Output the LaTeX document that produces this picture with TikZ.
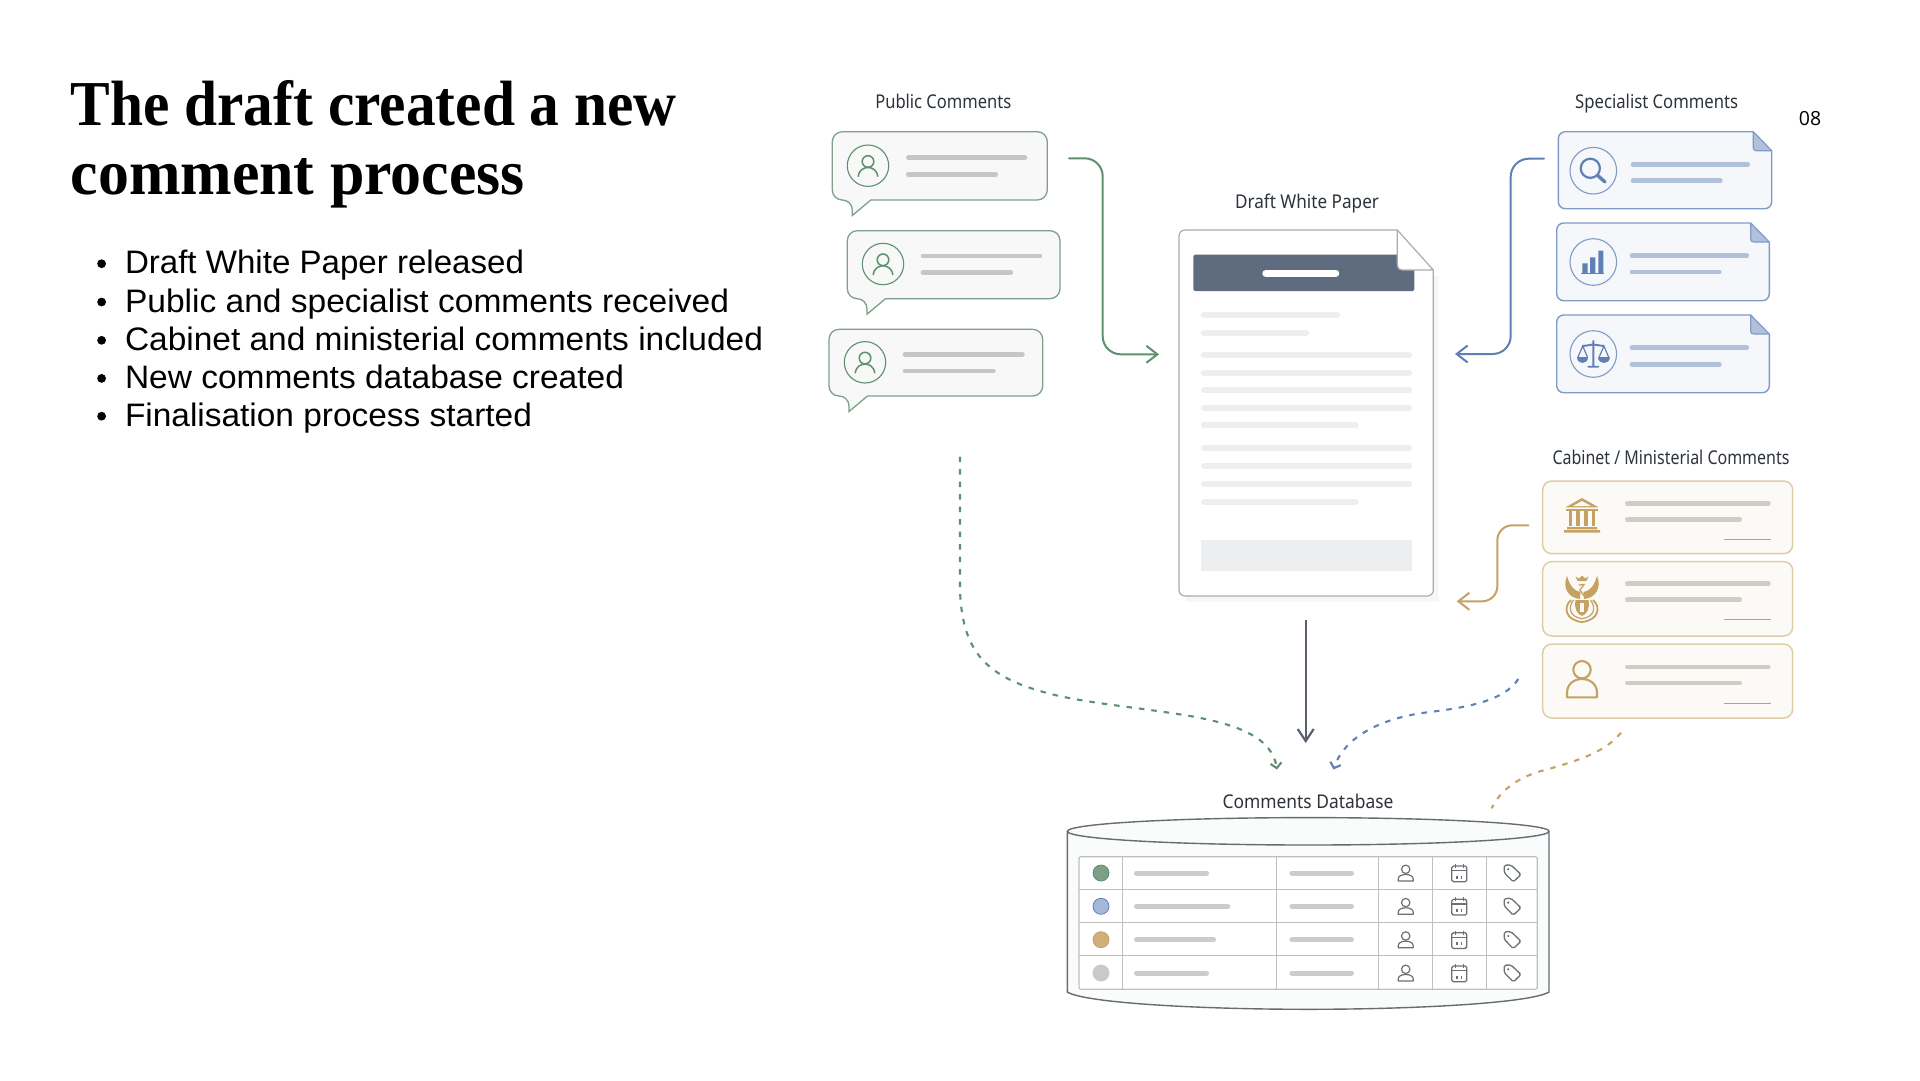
\documentclass[tikz,border=0pt]{standalone}
\usepackage{fontspec}
\usepackage{graphicx}
\usetikzlibrary{arrows.meta,calc}
\newfontfamily\labelfont{Noto Sans}
\newfontfamily\bodyfont{Liberation Sans}
\newfontfamily\numfont{Open Sans}
\newfontfamily\titlefont{Liberation Serif}
\definecolor{gline}{HTML}{5E8F70}
\definecolor{gcard}{HTML}{7FA189}
\definecolor{gfill}{HTML}{F7F8F7}
\definecolor{gbar}{HTML}{C3C8C5}
\definecolor{bline}{HTML}{5F80B5}
\definecolor{bcard}{HTML}{7F9BC6}
\definecolor{bfill}{HTML}{F5F7FB}
\definecolor{bbar}{HTML}{B1C1DB}
\definecolor{tline}{HTML}{C4A264}
\definecolor{tcard}{HTML}{E0CDA8}
\definecolor{tfill}{HTML}{FCFAF6}
\definecolor{tbarc}{HTML}{D0CDC6}
\definecolor{tthin}{HTML}{A0A5A9}
\definecolor{docbar}{HTML}{EDEEEF}
\definecolor{docedge}{HTML}{A9ABAE}
\definecolor{dochead}{HTML}{5F6B7E}
\definecolor{dark}{HTML}{5A6270}
\definecolor{dbedge}{HTML}{666C74}
\definecolor{dbfill}{HTML}{FAFBFB}
\definecolor{labelc}{HTML}{2D333B}
\definecolor{tablec}{HTML}{BDBFC0}
\definecolor{iconc}{HTML}{6C7176}
\definecolor{rowbar}{HTML}{CACCCE}
\definecolor{dotg}{HTML}{7E9F85}
\definecolor{dotb}{HTML}{A5B8DA}
\definecolor{dott}{HTML}{CFAF7A}
\definecolor{dotn}{HTML}{C8CAC8}
\definecolor{shadowc}{HTML}{F6F6F6}
\newcommand\tbarline[5]{\draw[line cap=round,line width=#5pt,color=#4] (#1+#5/2,#3) -- (#2-#5/2,#3);}
\newcommand\bubblecard[5]{%
  \draw[cardg] (#5+18.5,#4) [rounded corners=10pt] -- (#3,#4) -- (#3,#2) -- (#1,#2) -- (#1,#4) -- (#5,#4) [sharp corners] -- (#5,#4+15.5) -- (#5+18.5,#4) -- cycle;}
\newcommand\foldcard[6]{%
  \draw[cardb,rounded corners=7pt] (#3,#6) -- (#3,#4) -- (#1,#4) -- (#1,#2) -- (#5,#2);
  \fill[bbar] (#5,#2) -- (#3,#6) -- (#5+3,#6) .. controls (#5+1,#6) and (#5,#6-1) .. (#5,#6-3) -- cycle;
  \draw[bcard,line width=1.2pt,line join=round] (#5,#2) -- (#3,#6) -- (#5+3,#6) .. controls (#5+1,#6) and (#5,#6-1) .. (#5,#6-3) -- cycle;}
\tikzset{
  cardg/.style={draw=gcard,fill=gfill,line width=1.3pt},
  cardb/.style={draw=bcard,fill=bfill,line width=1.4pt},
  cardt/.style={draw=tcard,fill=tfill,line width=1.5pt,rounded corners=9pt},
  lab/.style={inner sep=0pt,anchor=base,text=labelc,font=\labelfont\fontsize{19}{22}\selectfont},
  bullettext/.style={inner sep=0pt,anchor=base west,text=black,font=\bodyfont\fontsize{32.5}{38}\selectfont},
  titletext/.style={inner sep=0pt,anchor=base west,text=black,font=\titlefont\fontsize{64}{68}\selectfont\bfseries},
  bdot/.style={fill=black,draw=none},
  flow/.style={line width=2pt,rounded corners=18pt,line cap=round},
  dashflow/.style={line width=2.1pt,dash pattern=on 5.5pt off 7pt},
  bighead/.style={-{Straight Barb[length=11pt,width=17pt]}},
  smallhead/.style={-{Straight Barb[length=5pt,width=11pt]}},
  avatarpic/.pic={
    \draw[gline,line width=1.1pt,fill=gfill] (0,0) circle (20.7);
    \draw[gline,line width=1.5pt] (0,-4.2) circle (5.8);
    \draw[gline,line width=1.5pt] (-9.8,11) .. controls (-9,4) and (-4,1.8) .. (0,1.8) .. controls (4,1.8) and (9,4) .. (9.8,11);
  },
  personpic/.pic={
    \draw[iconc,line width=1.2pt] (0,-3.7) circle (4.2);
    \draw[iconc,line width=1.2pt,line join=round] (-7.5,8) -- (-7.5,6) .. controls (-7.5,3) and (-4,1.5) .. (0,1.5) .. controls (4,1.5) and (7.5,3) .. (7.5,6) -- (7.5,8) -- cycle;
  },
  calpic/.pic={
    \draw[iconc,line width=1.3pt,rounded corners=1.6pt] (-7.5,-7) rectangle (7.5,8.7);
    \draw[iconc,line width=1.2pt] (-7.5,-2.3) -- (7.5,-2.3) (-4,-9) -- (-4,-5) (4,-9) -- (4,-5);
    \draw[iconc,line width=1.5pt] (-2.5,2.5) -- (-2.5,5.5) (2.2,2.5) -- (2.2,5.5);
  },
  tagpic/.pic={
    \draw[iconc,line width=1.3pt,rounded corners=1.6pt] (-7.8,-7.8) -- (-1,-8) -- (9,1.5) -- (1.3,8.9) -- (-7.8,-0.4) -- cycle;
    \fill[iconc] (-3.8,-3.7) circle (1.2);
  }
}
\begin{document}
\begin{tikzpicture}[x=1pt,y=-1pt]
\useasboundingbox (0,0) rectangle (1920,1080);
\fill[white] (0,0) rectangle (1920,1080);

% left column
\node[titletext] (title1) at (70.5,125.5) {\resizebox{606pt}{\height}{The draft created a new}};
\node[titletext] (title2) at (70.5,194) {\resizebox{454pt}{\height}{comment process}};
\foreach \n/\yy/\w/\t in {a/273.7/399/Draft White Paper released,b/312/604/Public and specialist comments received,c/350.3/638/Cabinet and ministerial comments included,d/388.4/499/New comments database created,e/426.2/407/Finalisation process started}{
  \fill[bdot] (101.6,\yy-10) circle (4.4);
  \node[bullettext] (bul\n) at (124.8,\yy) {\resizebox{\w pt}{\height}{\t}};
}
\node[inner sep=0pt,anchor=base,font=\numfont\fontsize{19.5}{22}\selectfont] (pagenum) at (1810,125) {08};

% labels
\node[lab] (lpublic) at (943.3,108.7) {\resizebox{136pt}{\height}{Public Comments}};
\node[lab] (lspec) at (1656.7,108.7) {\resizebox{163pt}{\height}{Specialist Comments}};
\node[lab] (ldraft) at (1307,208) {\resizebox{144pt}{\height}{Draft White Paper}};
\node[lab] (lcab) at (1671,464) {\resizebox{237pt}{\height}{Cabinet / Ministerial Comments}};
\node[lab] (ldb) at (1308,808.3) {\resizebox{171pt}{\height}{Comments Database}};

% public bubbles
\bubblecard{832.3}{131.7}{1047.3}{200}{852.3}
\bubblecard{847.3}{230.7}{1060}{298.7}{867}
\bubblecard{829}{329.3}{1042.7}{396}{849}
\pic at (868,165.7) {avatarpic};
\pic at (883,264) {avatarpic};
\pic at (865,362.3) {avatarpic};
\tbarline{906}{1027.3}{157.7}{gbar}{4.6}
\tbarline{906}{998}{174.3}{gbar}{4.6}
\tbarline{920.7}{1042.3}{256}{gbar}{4.6}
\tbarline{920.7}{1013}{272.7}{gbar}{4.6}
\tbarline{902.7}{1024.7}{354.3}{gbar}{4.6}
\tbarline{902.7}{995.7}{371}{gbar}{4.6}

% specialist cards
\foldcard{1558.3}{131.7}{1771.7}{208.7}{1753.3}{150.7}
\foldcard{1556.7}{223}{1769.3}{300.7}{1750.7}{242}
\foldcard{1556.7}{315}{1769.3}{392.7}{1750.7}{334}
\foreach \cy in {170.7,262,354}{\draw[bcard,line width=1.1pt,fill=bfill] (1593.3,\cy) circle (23.3);}
\tbarline{1630.7}{1750}{164.3}{bbar}{4.6}
\tbarline{1630.7}{1722.7}{180.7}{bbar}{4.6}
\tbarline{1629.7}{1749}{255.7}{bbar}{4.6}
\tbarline{1629.7}{1721.7}{272}{bbar}{4.6}
\tbarline{1629.7}{1749}{347.7}{bbar}{4.6}
\tbarline{1629.7}{1721.7}{364.3}{bbar}{4.6}
% magnifier
\draw[bline,line width=2.2pt] (1590.3,168.3) circle (9.6);
\draw[bline,line width=3.4pt,line cap=round] (1597.7,175.5) -- (1605,182);
% bars
\fill[bline] (1582.3,263.3) rectangle (1587.6,273.3) (1590,257.3) rectangle (1595.3,273.3) (1598.3,250.7) rectangle (1603.3,273.3);
\draw[bline,line width=1pt] (1581,273.6) -- (1604,273.6);
% scales
\draw[bline,line width=1.9pt,line cap=round] (1593.3,341) -- (1593.3,366.7) (1588.3,366.7) -- (1598.3,366.7) (1583,346) -- (1593.3,344.5) -- (1603.6,346);
\draw[bline,line width=1.2pt] (1578,357) -- (1582.7,346) -- (1587.4,357) (1599.2,357) -- (1603.9,346) -- (1608.6,357);
\fill[bline] (1577,357) .. controls (1577,364.5) and (1588.4,364.5) .. (1588.4,357) -- cycle;
\fill[bline] (1598.2,357) .. controls (1598.2,364.5) and (1609.6,364.5) .. (1609.6,357) -- cycle;

% cabinet cards
\draw[cardt] (1542.7,481) rectangle (1792.7,553.7);
\draw[cardt] (1542.7,561.7) rectangle (1792.7,636);
\draw[cardt] (1542.7,644) rectangle (1792.7,718);
\foreach \a/\b/\c in {503.3/519.3/539.3,583.7/599.7/619.7,667/683/703.3}{
  \tbarline{1625}{1770.7}{\a}{tbarc}{4.6}
  \tbarline{1625}{1742}{\b}{tbarc}{4.6}
  \draw[tthin,line width=1pt] (1724,\c) -- (1770.7,\c);
}
% temple
\fill[tline] (1582,498) -- (1598.5,507.3) -- (1565.5,507.3) -- cycle;
\fill[tfill] (1582,501) -- (1591,506) -- (1573,506) -- cycle;
\fill[tline] (1566,508.7) rectangle (1598,511);
\foreach \cx in {1570.3,1578,1586,1593.3}{\fill[tline] (\cx-1.8,511) rectangle (\cx+1.8,526);}
\fill[tline] (1567,527) rectangle (1597,529.3) (1564,530) rectangle (1600,532.5);
% coat of arms
\fill[tline] (1567,576) .. controls (1562,587) and (1568,598) .. (1580,599) -- (1580.5,592) .. controls (1574,591) and (1570,586) .. cycle;
\fill[tline] (1597,576) .. controls (1602,587) and (1596,598) .. (1584,599) -- (1583.5,592) .. controls (1590,591) and (1594,586) .. cycle;
\fill[tline] (1577.5,581) -- (1575.5,576.5) -- (1579,578.5) -- (1582,575.5) -- (1585,578.5) -- (1588.5,576.5) -- (1586.5,581) -- cycle;
\draw[tline,line width=1.3pt] (1579,585) -- (1584,584.5) -- (1580,590) -- (1584,596);
\draw[tline,line width=1.8pt] (1571,600) .. controls (1563,607) and (1565,620) .. (1582,622) .. controls (1599,620) and (1601,607) .. (1593,600);
\draw[tline,line width=1.2pt] (1573.5,600) .. controls (1567.5,608) and (1570,617) .. (1582,618.7) .. controls (1594,617) and (1596.5,608) .. (1590.5,600);
\fill[tline] (1575.5,600) -- (1588.5,600) .. controls (1590,609) and (1587,614) .. (1582,616) .. controls (1577,614) and (1574,609) .. cycle;
\fill[tfill] (1580.4,603) rectangle (1583.6,612);
% person
\draw[tline,line width=2.1pt] (1582,669.7) circle (8.7);
\draw[tline,line width=2.1pt,line join=round] (1567,697.3) -- (1567,693) .. controls (1567,684) and (1574,679) .. (1582,679) .. controls (1590,679) and (1597,684) .. (1597,693) -- (1597,697.3) -- cycle;

% document
\fill[shadowc] (1438.5,276) -- (1438.5,601.5) -- (1186,601.5) -- (1186,590) -- (1430,590) -- (1430,276) -- cycle;
\draw[draw=docedge,fill=white,line width=1.2pt,rounded corners=6pt] (1433.3,270) -- (1433.3,596) -- (1179,596) -- (1179,230) -- (1397.3,230);
\fill[dochead,rounded corners=2pt] (1193.3,254.7) rectangle (1414.3,291);
\draw[draw=docedge,fill=white,line width=1.2pt,line join=round] (1397.3,230) -- (1433.3,270) -- (1402,270) .. controls (1399,270) and (1397.3,268) .. (1397.3,265) -- cycle;
\tbarline{1262.3}{1339.3}{273.3}{white}{7}
\tbarline{1201}{1340.3}{314.7}{docbar}{6}
\tbarline{1201}{1309}{333}{docbar}{6}
\foreach \yy in {355,372.7,390,407.7,448,466,484.3}{\tbarline{1201}{1412}{\yy}{docbar}{6}}
\tbarline{1201}{1358.7}{425}{docbar}{6}
\tbarline{1201}{1358.7}{502.3}{docbar}{6}
\fill[docbar] (1201,540) rectangle (1412,570.7);

% database
\draw[draw=dbedge,fill=dbfill,line width=1.4pt] (1067.3,831.3) -- (1067.3,992) .. controls (1085,1003) and (1200,1009.3) .. (1308.2,1009.3) .. controls (1416,1009.3) and (1531,1003) .. (1549,992) -- (1549,831.3);
\draw[draw=dbedge,fill=dbfill,line width=1.4pt] (1308.2,831.3) ellipse (240.8 and 13.7);
\draw[tablec,line width=1.2pt,fill=white,rounded corners=2pt] (1079,856.7) rectangle (1537.3,989.3);
\draw[tablec,line width=1.2pt] (1079,889.3) -- (1537.3,889.3) (1079,922.7) -- (1537.3,922.7) (1079,955.7) -- (1537.3,955.7);
\foreach \cx in {1122.3,1276.3,1378.3,1432.3,1486.3}{\draw[tablec,line width=1.2pt] (\cx,856.7) -- (\cx,989.3);}
\foreach \yy/\cc/\ee/\lw in {873/dotg/gline/1209,906.3/dotb/bline/1230.3,939.7/dott/tline/1216,973/dotn/dotn/1209}{
  \draw[draw=\ee,fill=\cc,line width=.8pt] (1101,\yy) circle (8);
  \tbarline{1134}{\lw}{\yy}{rowbar}{5}
  \tbarline{1289.3}{1354}{\yy}{rowbar}{5}
  \pic at (1405.7,\yy) {personpic};
  \pic at (1459.3,\yy) {calpic};
  \pic at (1512,\yy) {tagpic};
}

% connectors
\coordinate (gs) at (1069,158.3);
\coordinate (gc1) at (1102.7,158.3);
\coordinate (gc2) at (1102.7,354.3);
\coordinate (ge) at (1159,354.3);
\draw[flow,gline,bighead] (gs) -- (gc1) -- (gc2) -- (ge);
\coordinate (bs) at (1544,158.7);
\coordinate (bc1) at (1510.7,158.7);
\coordinate (bc2) at (1510.7,354);
\coordinate (be) at (1455,354);
\draw[flow,bline,bighead] (bs) -- (bc1) -- (bc2) -- (be);
\coordinate (ts) at (1528.3,525.3);
\coordinate (tc1) at (1497.3,525.3);
\coordinate (tc2) at (1497.3,601.3);
\coordinate (te) at (1456.7,601.3);
\draw[flow,rounded corners=15pt,tline,bighead] (ts) -- (tc1) -- (tc2) -- (te);
\coordinate (ds) at (1305.7,620);
\coordinate (de) at (1305.7,743);
\draw[dark,line width=2.2pt,-{Straight Barb[length=12pt,width=16pt]}] (ds) -- (de);
\coordinate (dgs) at (960,456.7);
\coordinate (dge) at (1277,769.5);
\draw[dashflow,gline,smallhead] (dgs) -- (960,590) .. controls (962,650) and (985,675) .. (1040,691) .. controls (1080,703) and (1130,706) .. (1190,716) .. controls (1240,725) and (1272,738) .. (dge);
\coordinate (dbs) at (1518.3,679);
\coordinate (dbe) at (1333.5,769.5);
\draw[dashflow,bline,smallhead] (dbs) .. controls (1505,700) and (1470,707) .. (1430,712) .. controls (1385,717) and (1345,735) .. (dbe);
\coordinate (dts) at (1621,732.7);
\coordinate (dte) at (1491.7,808.3);
\draw[dashflow,tline] (dts) .. controls (1605,752) and (1580,760) .. (1545,770) .. controls (1520,776) and (1500,790) .. (dte);
\end{tikzpicture}
\end{document}
